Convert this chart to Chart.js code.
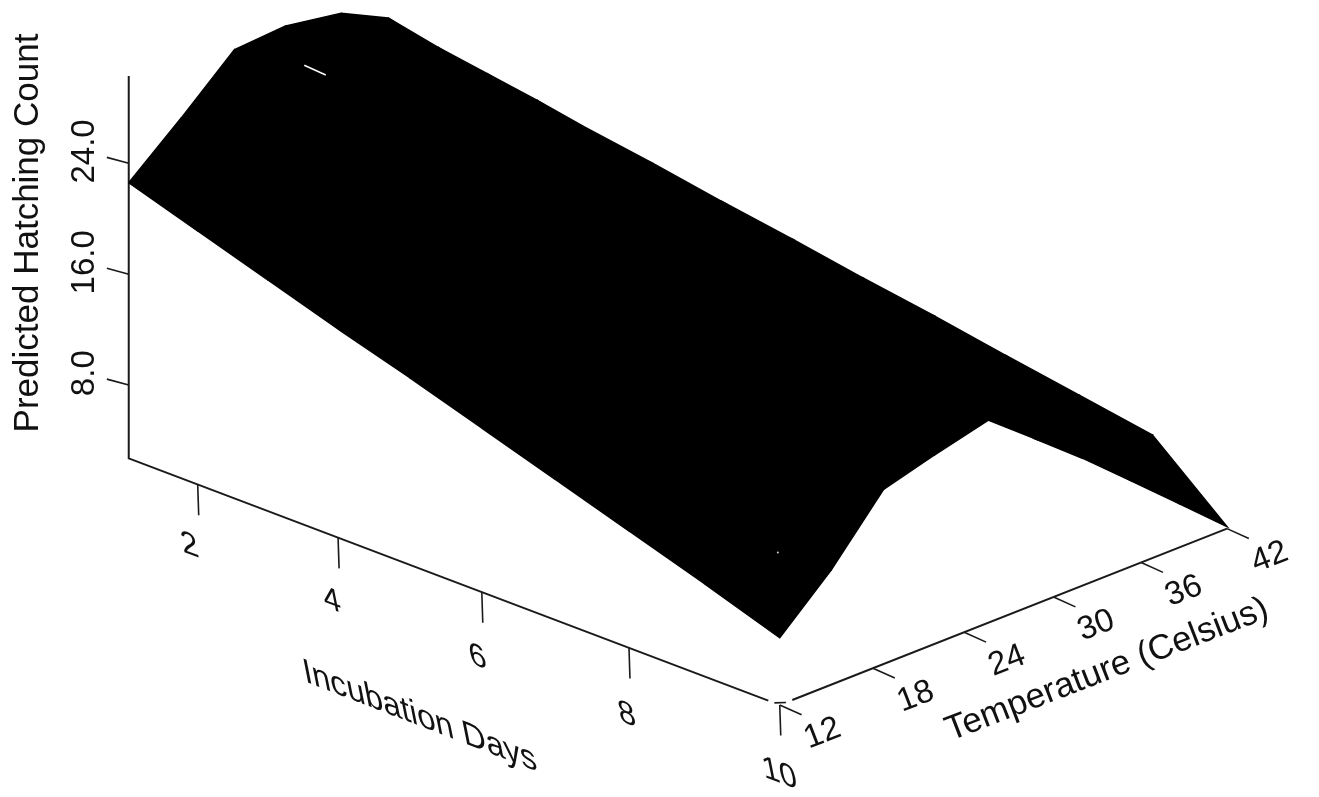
<!DOCTYPE html>
<html>
<head>
<meta charset="utf-8">
<title>Predicted Hatching Count</title>
<script src="https://cdn.jsdelivr.net/npm/chart.js@4"></script>
<style>
    html, body { margin: 0; padding: 0; background: #fff; }
    canvas { display: block; }
</style>
</head>
<body>
<canvas id="myChart" width="1319" height="797"></canvas>
<script>
const days = [1, 2, 3, 4, 5, 6, 7, 8, 9, 10];
const temps = [12, 15.3, 18.7, 22, 25.6, 28.7, 32, 35.3, 38.7, 42];

// predicted count, one row per day, one column per temperature
const day1 = [22.6, 26.1, 29.9, 30.5, 30.2, 28.8, 25.5, 22.4, 19.2, 16.0];
const day2 = [20.9, 24.2, 27.7, 28.9, 28.7, 27.2, 24.0, 20.9, 17.7, 15.0];
const day3 = [19.2, 22.5, 26.1, 27.2, 27.2, 25.7, 22.4, 19.4, 16.2, 13.9];
const day4 = [17.5, 20.8, 24.5, 25.6, 25.8, 24.1, 20.9, 17.9, 14.7, 12.9];
const day5 = [15.9, 19.1, 22.9, 24.0, 24.3, 22.5, 19.4, 16.4, 13.2, 11.8];
const day6 = [14.2, 17.4, 21.2, 22.4, 22.8, 21.0, 17.8, 14.8, 11.8, 10.8];
const day7 = [12.5, 15.7, 19.6, 20.7, 21.3, 19.4, 16.3, 13.3, 10.3, 9.7];
const day8 = [10.8, 14.0, 18.0, 19.1, 19.9, 17.8, 14.8, 11.8, 8.8, 8.65];
const day9 = [9.1, 12.3, 16.4, 17.5, 18.4, 16.3, 13.2, 10.3, 7.3, 7.6];
const day10 = [7.3, 10.6, 14.8, 15.85, 16.9, 14.4, 11.7, 8.8, 5.8, 2.85];
const counts = [day1, day2, day3, day4, day5, day6, day7, day8, day9, day10];

// tick labels
const dayTicks = [2, 4, 6, 8, 10];
const tempTicks = [12, 18, 24, 30, 36, 42];
const countTicks = [8, 16, 24];

// the little scanning flaws showing through the surface
const flawDays = [1, 1];
const flawTemps = [23.2, 24.6];
const flawCounts = [27.2, 26.0];
const speckDays = [7.3];
const speckTemps = [25];
const speckCounts = [2.7];

// axis range
const countFloor = 2.71;
const countTop = 30.3;

// perspective camera, floor corners in homogeneous form
function project(day, temp, count) {
    const s = (day - 1) / 9;
    const t = (temp - 12) / 30;
    const w = 1 - 0.052 * s + 0.05 * t;
    const X = 125.5 + 614.4 * s + 488.1 * t;
    const Y = 459 + 212.2 * s - 142.3 * t - 14 * (count - countFloor);
    return { x: X / w, y: Y / w };
}

function lineSet(points, color, width) {
    return {
        data: points,
        showLine: true,
        borderColor: color,
        borderWidth: width,
        pointRadius: 0,
        tension: 0,
        fill: false
    };
}

const datasets = [];

// surface cells
for (let i = 0; i < days.length - 1; i++) {
    for (let j = 0; j < temps.length - 1; j++) {
        const cell = [
            project(days[i], temps[j], counts[i][j]),
            project(days[i + 1], temps[j], counts[i + 1][j]),
            project(days[i + 1], temps[j + 1], counts[i + 1][j + 1]),
            project(days[i], temps[j + 1], counts[i][j + 1]),
            project(days[i], temps[j], counts[i][j])
        ];
        const set = lineSet(cell, '#000', 1.5);
        set.fill = 'shape';
        set.backgroundColor = '#000';
        datasets.push(set);
    }
}

// flaws, lowest order is painted last
const flaw = lineSet(flawDays.map((d, i) => project(d, flawTemps[i], flawCounts[i])), '#fff', 1.5);
flaw.order = -1;
datasets.push(flaw);
const speck = lineSet(speckDays.map((d, i) => project(d, speckTemps[i], speckCounts[i])), '#fff', 1);
speck.pointRadius = 1;
speck.pointBackgroundColor = '#ccc';
speck.pointBorderWidth = 0;
speck.order = -1;
datasets.push(speck);

// axes
const axisColor = '#1a1a1a';
datasets.push(lineSet([project(1, 12, countTop), project(1, 12, countFloor), project(9.85, 12, countFloor)], axisColor, 2));
datasets.push(lineSet([project(9.93, 12, countFloor), project(10, 12.4, countFloor)], axisColor, 1.6));
datasets.push(lineSet([project(10, 12.8, countFloor), project(10, 42, countFloor)], axisColor, 2));

// tick marks
countTicks.forEach(c => {
    const p = project(1, 12, c);
    datasets.push(lineSet([p, { x: p.x - 22, y: p.y - 6 }], axisColor, 1.6));
});
dayTicks.forEach(d => {
    const p = project(d, 12, countFloor);
    datasets.push(lineSet([p, { x: p.x + 1, y: p.y + 31 }], axisColor, 1.6));
});
tempTicks.forEach(t => {
    const p = project(10, t, countFloor);
    datasets.push(lineSet([p, { x: p.x + 22, y: p.y + 10 }], axisColor, 1.6));
});

// text has to follow the axes of the box so it is drawn rotated
function putText(ctx, text, x, y, a, b, c, d, size) {
    ctx.save();
    ctx.transform(a, b, c, d, x, y);
    ctx.font = size + 'px "Liberation Sans", Arial, sans-serif';
    ctx.fillStyle = '#111';
    ctx.textAlign = 'center';
    ctx.textBaseline = 'middle';
    ctx.fillText(text, 0, 0);
    ctx.restore();
}

const axisText = {
    id: 'axisText',
    afterDraw(chart) {
        const ctx = chart.ctx;
        const sx = chart.scales.x;
        const sy = chart.scales.y;

        countTicks.forEach(c => {
            const p = project(1, 12, c);
            putText(ctx, c.toFixed(1), sx.getPixelForValue(p.x - 44), sy.getPixelForValue(p.y - 12), 0, -1, 1, 0, 33);
        });
        dayTicks.forEach(d => {
            const p = project(d, 12, countFloor);
            putText(ctx, String(d), sx.getPixelForValue(p.x - 8 + (d - 2)), sy.getPixelForValue(p.y + 62 + (d - 2)), 0.94, 0.34, 0.2, 1, 33);
        });
        tempTicks.forEach(t => {
            const p = project(10, t, countFloor);
            putText(ctx, String(t), sx.getPixelForValue(p.x + 43), sy.getPixelForValue(p.y + 29), 0.93, -0.36, 0.36, 0.93, 33);
        });

        putText(ctx, 'Predicted Hatching Count', 28, 233, 0, -1, 1, 0, 35);
        putText(ctx, 'Incubation Days', 420, 717, 0.93, 0.36, 0.2, 1, 35);
        putText(ctx, 'Temperature (Celsius)', 1107, 670, 0.93, -0.36, 0.36, 0.93, 35);
    }
};

const ctx = document.getElementById('myChart').getContext('2d');
const chart = new Chart(ctx, {
    type: 'scatter',
    data: { datasets: datasets },
    options: {
        responsive: false,
        animation: false,
        layout: { padding: 0 },
        plugins: {
            legend: { display: false },
            tooltip: { enabled: false }
        },
        scales: {
            x: { type: 'linear', min: 0, max: 1319, display: false },
            y: { type: 'linear', min: 0, max: 797, reverse: true, display: false }
        }
    },
    plugins: [axisText]
});
</script>
</body>
</html>
